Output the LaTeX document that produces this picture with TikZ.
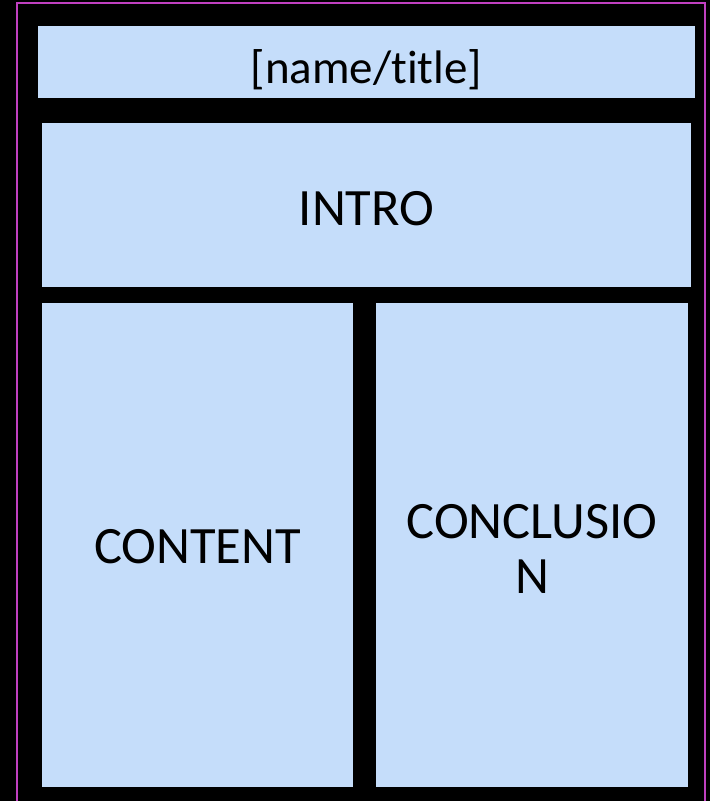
\documentclass[tikz,border=0pt]{standalone}
\usepackage{fontspec}
\setmainfont{Carlito}[Ligatures=NoCommon]
\begin{document}
\begin{tikzpicture}[x=1pt,y=-1pt,
  panel/.style={fill=panelblue, draw=none, inner sep=0pt, outer sep=0pt},
  label/.style={inner sep=0pt, outer sep=0pt, text=black, font=\fontsize{52.5}{55.5}\selectfont, align=center}]
\definecolor{panelblue}{HTML}{C5DDFA}
\definecolor{frame}{HTML}{C040C0}
\useasboundingbox (0,0) rectangle (710,801);
\fill[black] (0,0) rectangle (710,801);
\draw[frame, line width=2.2pt] (17,820) -- (17,3) -- (705,3) -- (705,820);
\node[panel, minimum width=657pt, minimum height=72pt] (title) at (366.5,62) {};
\node[panel, minimum width=649pt, minimum height=164pt] (intro) at (366.5,205) {};
\node[panel, minimum width=311pt, minimum height=484pt] (content) at (197.5,545) {};
\node[panel, minimum width=312pt, minimum height=484pt] (concl) at (532,545) {};
\node[label, anchor=base, font=\fontsize{47}{50}\selectfont] (titletext) at (title.center |- 0,83) {[name/title]};
\node[label, anchor=base] (introtext) at (intro.center |- 0,225) {INTRO};
\node[label, anchor=base] (contenttext) at (content.center |- 0,563) {CONTENT};
\node[label, anchor=center] (concltext) at (concl.center |- 0,549) {CONCLUSIO\\N};
\end{tikzpicture}
\end{document}
